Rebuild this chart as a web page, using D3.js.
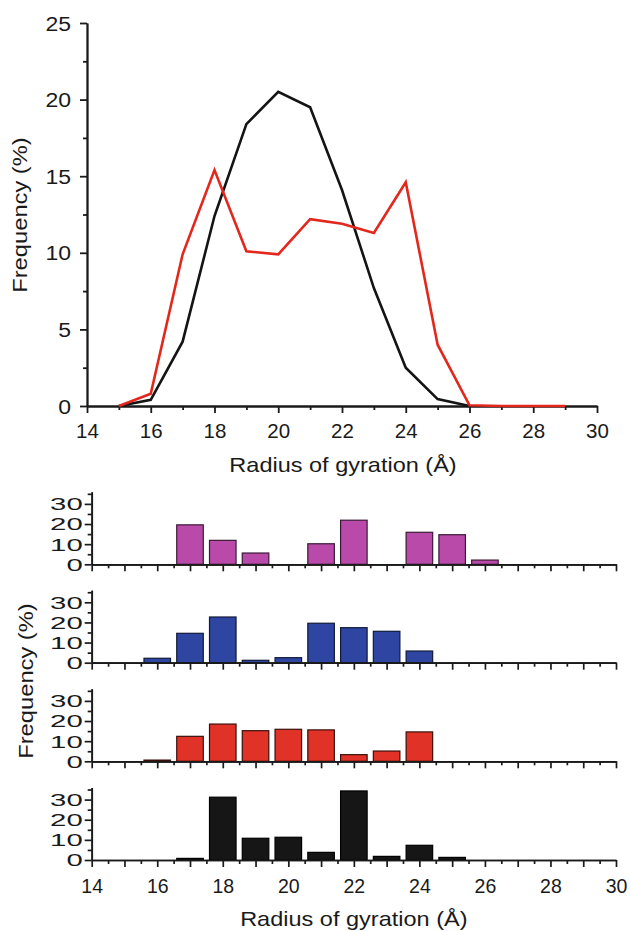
<!DOCTYPE html>
<html>
<head>
<meta charset="utf-8">
<script src="https://cdn.jsdelivr.net/npm/d3@7"></script>
<style>
  html, body { margin: 0; padding: 0; background: #fff; }
  svg { display: block; }
  text { font-family: "Liberation Sans", Arial, Helvetica, sans-serif; fill: #1a1a1a; }
</style>
</head>
<body>
<svg id="chart" width="630" height="931"></svg>
<script>
// Radius of gyration (Å) for the distribution curves
const rgLine = [15, 16, 17, 18, 19, 20, 21, 22, 23, 24, 25, 26, 27, 28, 29];
// Frequency (%) curves
const blackCurve = [0, 0.4, 4.2, 12.4, 18.4, 20.5, 19.5, 14.1, 7.7, 2.5, 0.45, 0];
const redCurve   = [0, 0.8, 9.9, 15.4, 10.1, 9.9, 12.2, 11.9, 11.3, 14.6, 4.0, 0.05, 0, 0, 0];

// Histogram bins (Å) and frequencies (%) for each panel, top to bottom
const rgBins = [16, 17, 18, 19, 20, 21, 22, 23, 24, 25, 26];
const magentaBars = [0, 19.6, 11.9, 5.6, 0, 10.2, 21.9, 0, 15.9, 14.7, 2.1];
const blueBars    = [2.2, 14.6, 22.7, 1.2, 2.5, 19.6, 17.4, 15.6, 5.8, 0, 0];
const redBars     = [0.6, 12.4, 18.5, 15.2, 15.9, 15.6, 3.3, 5.1, 14.6, 0, 0];
const blackBars   = [0, 0.8, 31.2, 10.8, 11.3, 3.8, 34.3, 1.8, 7.3, 1.3, 0];

// Tick values
const lineYTicks = [0, 5, 10, 15, 20, 25];
const lineYMinor = [2.5, 7.5, 12.5, 17.5, 22.5];
const xLabelTicks = [14, 16, 18, 20, 22, 24, 26, 28, 30];
const xOddTicks = [15, 17, 19, 21, 23, 25, 27, 29];
const barYTicks = [0, 10, 20, 30];
const barYMinor = [5, 15, 25, 35];

const xTitle = "Radius of gyration (Å)";
const yTitle = "Frequency (%)";

const panels = [
  { values: magentaBars, fill: "#b94aa9", stroke: "#3a1a36" },
  { values: blueBars,    fill: "#2e45a1", stroke: "#111a3a" },
  { values: redBars,     fill: "#e03226", stroke: "#3a0f0b" },
  { values: blackBars,   fill: "#161616", stroke: "#000000" }
];

const svg = d3.select("#chart");
const ink = "#1a1a1a";

function styleAxis(g, width) {
  g.select(".domain").attr("stroke", ink).attr("stroke-width", width);
  g.selectAll(".tick line").attr("stroke", ink).attr("stroke-width", width);
}

// ---------- Line chart ----------
const x = d3.scaleLinear().domain([14, 30]).range([87, 597]);
const y = d3.scaleLinear().domain([0, 25]).range([406, 23]);

// minor ticks
svg.append("g").attr("transform", `translate(0,${y(0)})`)
  .call(d3.axisBottom(x).tickValues(xOddTicks).tickSize(4).tickFormat("").tickSizeOuter(0))
  .call(g => styleAxis(g, 1.8));
svg.append("g").attr("transform", `translate(${x(14)},0)`)
  .call(d3.axisLeft(y).tickValues(lineYMinor).tickSize(4).tickFormat("").tickSizeOuter(0))
  .call(g => styleAxis(g, 1.8));

// major ticks with labels
svg.append("g").attr("transform", `translate(0,${y(0)})`)
  .call(d3.axisBottom(x).tickValues(xLabelTicks).tickSize(7).tickPadding(9).tickSizeOuter(0))
  .call(g => styleAxis(g, 1.8))
  .call(g => g.selectAll(".tick text").attr("font-size", 20.5).attr("fill", ink)
    .attr("dy", "0.71em").attr("y", 17).attr("font-family", null));
svg.append("g").attr("transform", `translate(${x(14)},0)`)
  .call(d3.axisLeft(y).tickValues(lineYTicks).tickSize(7).tickSizeOuter(0))
  .call(g => styleAxis(g, 1.8))
  .call(g => g.selectAll(".tick text").attr("font-size", 19.5).attr("fill", ink)
    .attr("font-family", null).attr("x", 0).attr("dy", "0.36em")
    .attr("transform", "translate(-16,0) scale(1.18,1)"));

const line = d3.line().x((d, i) => x(rgLine[i])).y(d => y(d));
svg.append("path").datum(blackCurve).attr("d", line)
  .attr("fill", "none").attr("stroke", "#141414").attr("stroke-width", 2.6).attr("stroke-linejoin", "miter");
svg.append("path").datum(redCurve).attr("d", line)
  .attr("fill", "none").attr("stroke", "#e2281d").attr("stroke-width", 2.6).attr("stroke-linejoin", "miter");

svg.append("text").attr("text-anchor", "middle")
  .attr("transform", `translate(343,472) scale(1.12,1)`)
  .attr("font-size", 21).text(xTitle);
svg.append("text").attr("text-anchor", "middle")
  .attr("transform", `translate(26.5,215) rotate(-90) scale(1.13,1)`)
  .attr("font-size", 21).text(yTitle);

// ---------- Histogram panels ----------
const xb = d3.scaleLinear().domain([14, 30]).range([91.7, 616]);
const zeros = [564.3, 662.7, 761.3, 860];
const barW = (xb(1) - xb(0)) * 0.81;
const halfTicks = d3.range(14.5, 30, 1);
const intTicks = d3.range(14, 31, 1);

panels.forEach((p, k) => {
  const z = zeros[k];
  const yb = d3.scaleLinear().domain([0, 30]).range([z, z - 60.4]);
  const g = svg.append("g");

  // bars
  g.selectAll("rect").data(p.values.map((v, i) => ({ r: rgBins[i], v })).filter(d => d.v > 0))
    .join("rect")
    .attr("x", d => xb(d.r) - barW / 2)
    .attr("y", d => yb(d.v))
    .attr("width", barW)
    .attr("height", d => yb(0) - yb(d.v))
    .attr("fill", p.fill)
    .attr("stroke", p.stroke)
    .attr("stroke-width", 1.2);

  // x axis: half-unit minor ticks, integer major ticks
  g.append("g").attr("transform", `translate(0,${z})`)
    .call(d3.axisBottom(xb).tickValues(halfTicks).tickSize(4).tickFormat("").tickSizeOuter(0))
    .call(a => styleAxis(a, 1.7));
  const xa = g.append("g").attr("transform", `translate(0,${z})`)
    .call(d3.axisBottom(xb).tickValues(intTicks).tickSize(7).tickSizeOuter(0)
      .tickFormat(d => (k === 3 && d % 2 === 0) ? d : ""))
    .call(a => styleAxis(a, 1.7));
  xa.selectAll(".tick text").attr("font-size", 19.5).attr("fill", ink)
    .attr("font-family", null).attr("y", 19).attr("dy", "0.71em");

  // y axis extends slightly past 30
  const ybExt = d3.scaleLinear().domain([0, 36]).range([z, yb(36)]);
  g.append("g").attr("transform", `translate(${xb(14)},0)`)
    .call(d3.axisLeft(ybExt).tickValues(barYMinor).tickSize(4).tickFormat("").tickSizeOuter(0))
    .call(a => styleAxis(a, 1.7));
  g.append("g").attr("transform", `translate(${xb(14)},0)`)
    .call(d3.axisLeft(ybExt).tickValues(barYTicks).tickSize(7).tickSizeOuter(0))
    .call(a => styleAxis(a, 1.7))
    .call(a => a.selectAll(".tick text").attr("font-size", 16.3).attr("fill", ink)
      .attr("font-family", null).attr("x", 0).attr("dy", "0.36em")
      .attr("transform", "translate(-9,0) scale(1.8,1)"));
});

svg.append("text").attr("text-anchor", "middle")
  .attr("transform", `translate(353.8,926) scale(1.12,1)`)
  .attr("font-size", 21).text(xTitle);
svg.append("text").attr("text-anchor", "middle")
  .attr("transform", `translate(33,681) rotate(-90) scale(1.13,1)`)
  .attr("font-size", 21).text(yTitle);
</script>
</body>
</html>
